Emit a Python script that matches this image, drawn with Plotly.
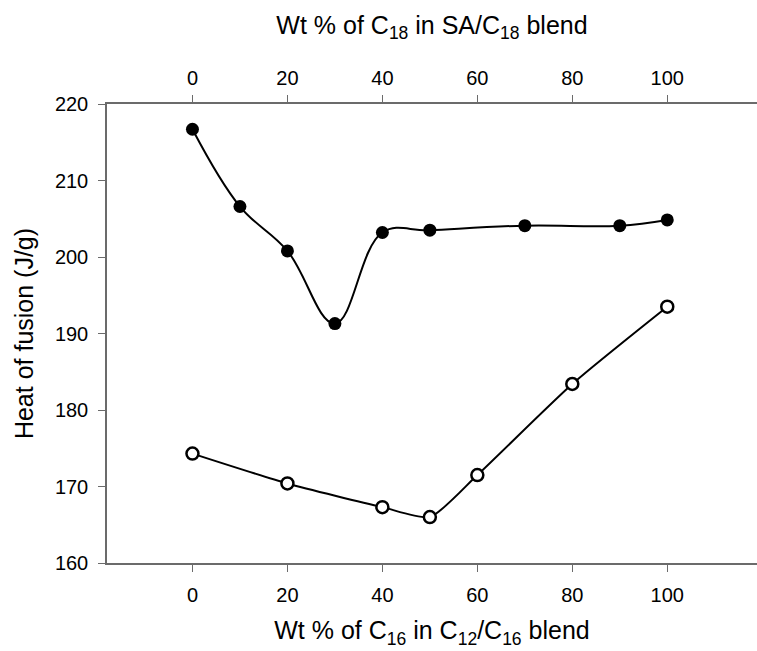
import plotly.graph_objects as go

# Data
sa_c18_x = [0, 10, 20, 30, 40, 50, 70, 90, 100]
sa_c18_y = [216.7, 206.6, 200.8, 191.3, 203.2, 203.5, 204.1, 204.1, 204.85]

c12_c16_x = [0, 20, 40, 50, 60, 80, 100]
c12_c16_y = [174.3, 170.4, 167.3, 166.0, 171.5, 183.4, 193.5]

x_ticks = [0, 20, 40, 60, 80, 100]
y_ticks = [160, 170, 180, 190, 200, 210, 220]

W, H = 757, 651
ml, mt, mb, mr = 107, 104, 88, 0
x_range = [-18, 118.9]
y_range = [160, 220]

font_family = "Liberation Sans, Arial, sans-serif"
axis_col = "#6b6b6b"
tick_size = 20
title_size = 25

fig = go.Figure()

fig.add_trace(go.Scatter(
    x=c12_c16_x, y=c12_c16_y, xaxis="x", yaxis="y",
    mode="lines+markers",
    line=dict(color="black", width=2, shape="spline", smoothing=0.6),
    marker=dict(symbol="circle", size=12, color="white",
                line=dict(color="black", width=2.5)),
    showlegend=False,
))

fig.add_trace(go.Scatter(
    x=sa_c18_x, y=sa_c18_y, xaxis="x2", yaxis="y",
    mode="lines+markers",
    line=dict(color="black", width=2, shape="spline", smoothing=1.1),
    marker=dict(symbol="circle", size=13, color="black",
                line=dict(color="black", width=0)),
    showlegend=False,
))

axis_common = dict(
    range=x_range, tickvals=x_ticks, ticktext=[str(v) for v in x_ticks],
    showgrid=False, zeroline=False, showline=True, linecolor=axis_col,
    linewidth=1.5, ticks="outside", ticklen=7, tickcolor=axis_col, tickwidth=1,
    tickfont=dict(family=font_family, size=tick_size, color="black"),
    automargin=False,
)

fig.update_layout(
    width=W, height=H,
    margin=dict(l=ml, r=mr, t=mt, b=mb, autoexpand=False),
    plot_bgcolor="white", paper_bgcolor="white",
    font=dict(family=font_family, color="black"),
    xaxis=dict(
        **axis_common, ticklabelstandoff=6,
        title=dict(text="Wt % of C<sub>16</sub> in C<sub>12</sub>/C<sub>16</sub> blend",
                   font=dict(family=font_family, size=title_size, color="black"), standoff=17),
    ),
    xaxis2=dict(
        **axis_common, overlaying="x", side="top", anchor="y", ticklabelstandoff=2,
        title=dict(text="Wt % of C<sub>18</sub> in SA/C<sub>18</sub> blend",
                   font=dict(family=font_family, size=title_size, color="black"), standoff=26),
    ),
    yaxis=dict(
        range=y_range, tickvals=y_ticks, ticktext=[str(v) for v in y_ticks],
        showgrid=False, zeroline=False, showline=True, linecolor=axis_col,
        linewidth=1.5, ticks="outside", ticklen=7, tickcolor=axis_col, tickwidth=1,
        tickfont=dict(family=font_family, size=tick_size, color="black"),
        automargin=False, ticklabelstandoff=6,
        title=dict(text="Heat of fusion (J/g)",
                   font=dict(family=font_family, size=title_size, color="black"), standoff=14),
    ),
)

fig.write_html(
    "out.html",
    config={"displayModeBar": False},
    post_script="document.body.style.margin='0';document.body.style.overflow='hidden';",
)
